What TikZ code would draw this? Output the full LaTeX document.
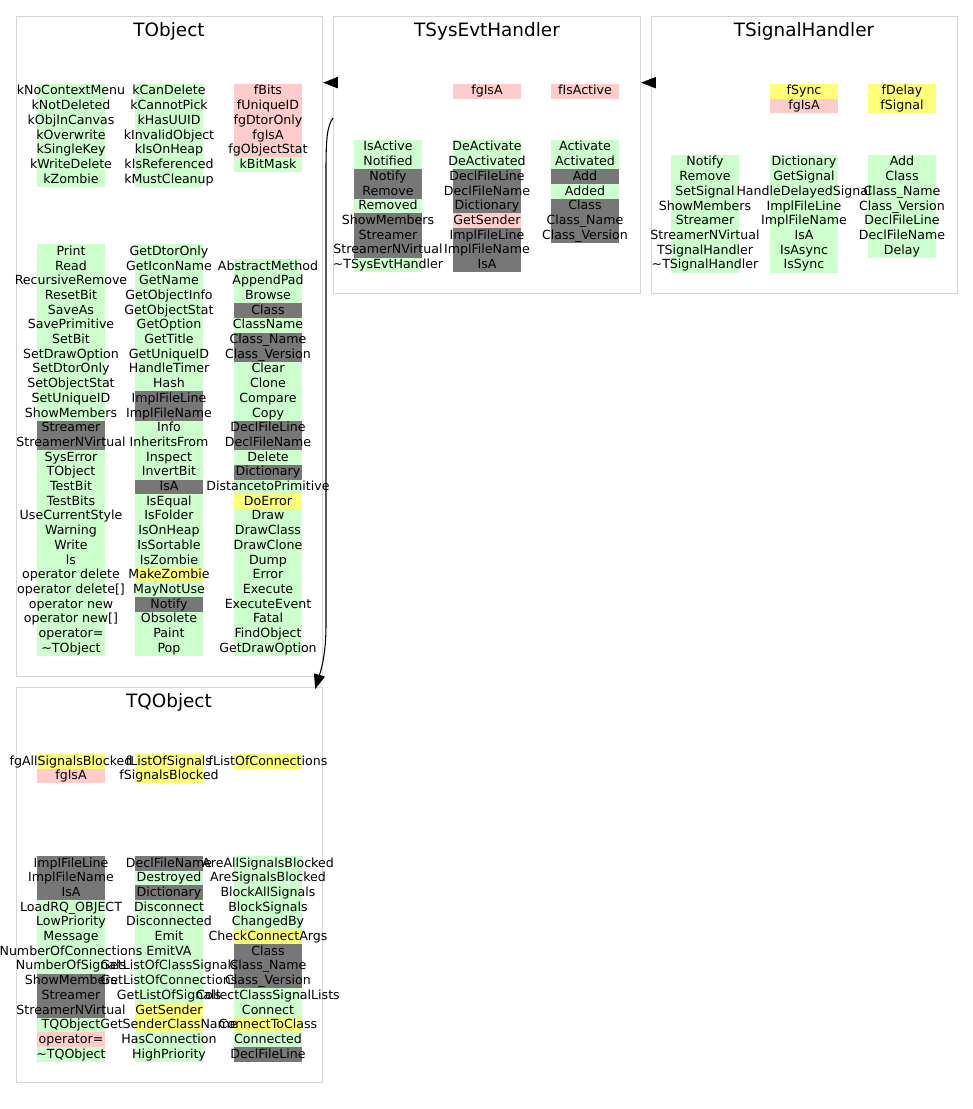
\documentclass[tikz,border=0pt]{standalone}
\usepackage{fontspec}
\setmainfont{DejaVu Sans}
\usepackage{xcolor}
\usetikzlibrary{arrows.meta}

\definecolor{memg}{HTML}{CCFFCC}
\definecolor{memp}{HTML}{FFCCCC}
\definecolor{memd}{HTML}{777777}
\definecolor{memy}{HTML}{FFFF77}
\definecolor{framegray}{HTML}{D6D6D6}

\pgfdeclarelayer{bands}
\pgfsetlayers{bands,main}

% one column of members: name, x centre, y top, list text/colour
\newcommand{\memcol}[4]{%
  \foreach \txt/\clr [count=\i from 0] in {#4} {
    \begin{pgfonlayer}{bands}
      \fill[mem\clr] (#2-34,#3+14.7*\i) rectangle (#2+34,#3+14.7*\i+14.7);
    \end{pgfonlayer}
    \node[memtext] (#1-\i) at (#2,#3+14.7*\i+11) {\txt};
  }%
}

\begin{document}
\begin{tikzpicture}[x=0.75pt, y=-0.75pt, every node/.style={inner sep=0pt},
  frame/.style={draw=framegray, line width=0.9pt, anchor=north west},
  title/.style={font=\fontsize{13.8}{16}\selectfont, anchor=base},
  memtext/.style={font=\fontsize{9.45}{11}\selectfont, anchor=base},
  inh/.style={-{Triangle[length=11pt,width=8.5pt]}, line width=0.8pt}]
  \useasboundingbox (0,0) rectangle (973,1109);

  % class frames
  \node[frame, minimum width=229.5pt, minimum height=495pt] (tobject) at (16,16) {};
  \node[frame, minimum width=230.25pt, minimum height=207.75pt] (tsysevt) at (333,16) {};
  \node[frame, minimum width=229.5pt, minimum height=207.75pt] (tsighandler) at (651,16) {};
  \node[frame, minimum width=229.5pt, minimum height=296.25pt] (tqobject) at (16,687) {};

  \node[title] (tobject-title) at (169,36.7) {TObject};
  \node[title] (tsysevt-title) at (487,36.7) {TSysEvtHandler};
  \node[title] (tsighandler-title) at (804,36.7) {TSignalHandler};
  \node[title] (tqobject-title) at (169,707.7) {TQObject};

  % TObject
  \memcol{tobj-d1}{71}{84}{kNoContextMenu/g, kNotDeleted/g, kObjInCanvas/g, kOverwrite/g, kSingleKey/g, kWriteDelete/g, kZombie/g}
  \memcol{tobj-d2}{169}{84}{kCanDelete/g, kCannotPick/g, kHasUUID/g, kInvalidObject/g, kIsOnHeap/g, kIsReferenced/g, kMustCleanup/g}
  \memcol{tobj-d3}{268}{84}{fBits/p, fUniqueID/p, fgDtorOnly/p, fgIsA/p, fgObjectStat/p, kBitMask/g}
  \memcol{tobj-m1}{71}{244.3}{Print/g, Read/g, RecursiveRemove/g, ResetBit/g, SaveAs/g, SavePrimitive/g, SetBit/g, SetDrawOption/g, SetDtorOnly/g, SetObjectStat/g, SetUniqueID/g, ShowMembers/g, Streamer/d, StreamerNVirtual/d, SysError/g, TObject/g, TestBit/g, TestBits/g, UseCurrentStyle/g, Warning/g, Write/g, ls/g, {operator delete}/g, {operator delete[]}/g, {operator new}/g, {operator new[]}/g, {operator=}/g, {\textasciitilde TObject}/g}
  \memcol{tobj-m2}{169}{244.3}{GetDtorOnly/g, GetIconName/g, GetName/g, GetObjectInfo/g, GetObjectStat/g, GetOption/g, GetTitle/g, GetUniqueID/g, HandleTimer/g, Hash/g, ImplFileLine/d, ImplFileName/d, Info/g, InheritsFrom/g, Inspect/g, InvertBit/g, IsA/d, IsEqual/g, IsFolder/g, IsOnHeap/g, IsSortable/g, IsZombie/g, MakeZombie/y, MayNotUse/g, Notify/d, Obsolete/g, Paint/g, Pop/g}
  \memcol{tobj-m3}{268}{259}{AbstractMethod/g, AppendPad/g, Browse/g, Class/d, ClassName/g, Class\_Name/d, Class\_Version/d, Clear/g, Clone/g, Compare/g, Copy/g, DeclFileLine/d, DeclFileName/d, Delete/g, Dictionary/d, DistancetoPrimitive/g, DoError/y, Draw/g, DrawClass/g, DrawClone/g, Dump/g, Error/g, Execute/g, ExecuteEvent/g, Fatal/g, FindObject/g, GetDrawOption/g}

  % TSysEvtHandler
  \memcol{tsys-d2}{487}{84}{fgIsA/p}
  \memcol{tsys-d3}{585}{84}{fIsActive/p}
  \memcol{tsys-m1}{388}{140}{IsActive/g, Notified/g, Notify/d, Remove/d, Removed/g, ShowMembers/d, Streamer/d, StreamerNVirtual/d, {\textasciitilde TSysEvtHandler}/g}
  \memcol{tsys-m2}{487}{140}{DeActivate/g, DeActivated/g, DeclFileLine/d, DeclFileName/d, Dictionary/d, GetSender/p, ImplFileLine/d, ImplFileName/d, IsA/d}
  \memcol{tsys-m3}{585}{140}{Activate/g, Activated/g, Add/d, Added/g, Class/d, Class\_Name/d, Class\_Version/d}

  % TSignalHandler
  \memcol{tsig-d2}{804}{84}{fSync/y, fgIsA/p}
  \memcol{tsig-d3}{902}{84}{fDelay/y, fSignal/y}
  \memcol{tsig-m1}{705}{155}{Notify/g, Remove/g, SetSignal/g, ShowMembers/g, Streamer/g, StreamerNVirtual/g, TSignalHandler/g, {\textasciitilde TSignalHandler}/g}
  \memcol{tsig-m2}{804}{155}{Dictionary/g, GetSignal/g, HandleDelayedSignal/g, ImplFileLine/g, ImplFileName/g, IsA/g, IsAsync/g, IsSync/g}
  \memcol{tsig-m3}{902}{155}{Add/g, Class/g, Class\_Name/g, Class\_Version/g, DeclFileLine/g, DeclFileName/g, Delay/g}

  % TQObject
  \memcol{tqo-d1}{71}{754}{fgAllSignalsBlocked/y, fgIsA/p}
  \memcol{tqo-d2}{169}{754}{fListOfSignals/y, fSignalsBlocked/y}
  \memcol{tqo-d3}{268}{754}{fListOfConnections/y}
  \memcol{tqo-m1}{71}{856}{ImplFileLine/d, ImplFileName/d, IsA/d, LoadRQ\_OBJECT/g, LowPriority/g, Message/g, NumberOfConnections/g, NumberOfSignals/g, ShowMembers/d, Streamer/d, StreamerNVirtual/d, TQObject/g, {operator=}/p, {\textasciitilde TQObject}/g}
  \memcol{tqo-m2}{169}{856}{DeclFileName/d, Destroyed/g, Dictionary/d, Disconnect/g, Disconnected/g, Emit/g, EmitVA/g, GetListOfClassSignals/g, GetListOfConnections/g, GetListOfSignals/g, GetSender/y, GetSenderClassName/y, HasConnection/g, HighPriority/g}
  \memcol{tqo-m3}{268}{856}{AreAllSignalsBlocked/g, AreSignalsBlocked/g, BlockAllSignals/g, BlockSignals/g, ChangedBy/g, CheckConnectArgs/y, Class/d, Class\_Name/d, Class\_Version/d, CollectClassSignalLists/g, Connect/g, ConnectToClass/y, Connected/g, DeclFileLine/d}

  % inheritance arrows
  \draw[inh] ([yshift=-50pt]tsysevt.north west) -- ([yshift=-50pt]tobject.north east);
  \draw[inh] ([yshift=-50pt]tsighandler.north west) -- ([yshift=-50pt]tsysevt.north east);
  \draw[inh] ([yshift=-76.5pt]tsysevt.north west) .. controls (327,126) and (326,140) .. (326,170)
    -- (326,625) .. controls (326,655) and (321,670) .. ([xshift=-6pt,yshift=-1.5pt]tqobject.north east);
\end{tikzpicture}
\end{document}
